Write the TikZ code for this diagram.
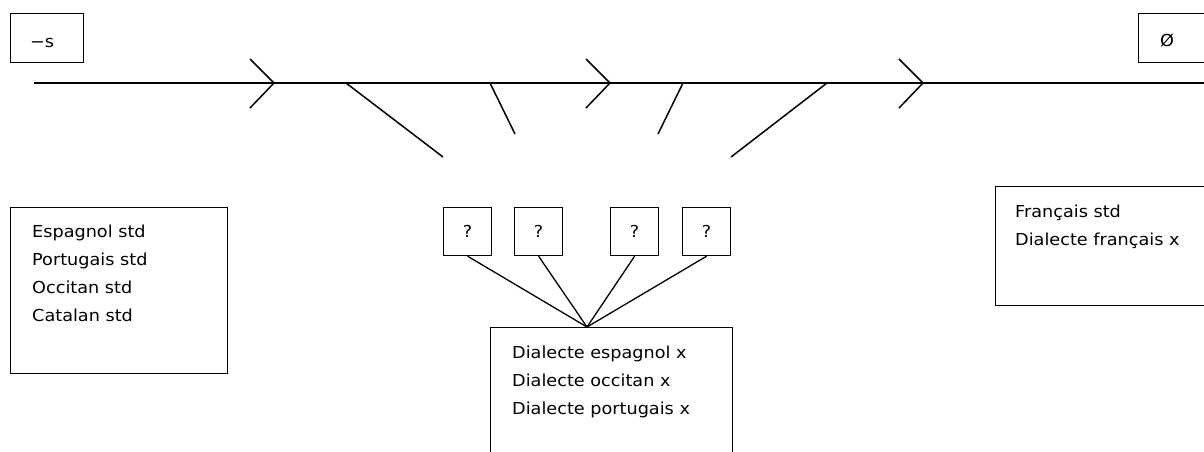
\documentclass[tikz,border=0pt]{standalone}
\usepackage{fontspec}
\setmainfont{DejaVu Sans}[FakeStretch=1.07]
\begin{document}
\begin{tikzpicture}[x=1pt,y=-1pt,
  line/.style={line width=1.5pt},
  box/.style={draw, line width=1.2pt, inner sep=0pt, anchor=north west},
  qbox/.style={box, minimum width=48pt, minimum height=48pt, font=\fontsize{16.5}{20}\selectfont},
  txt/.style={inner sep=0pt, anchor=base west, font=\fontsize{16.5}{20}\selectfont},
  lbl/.style={inner sep=0pt, anchor=base, font=\fontsize{16.5}{20}\selectfont}]
\useasboundingbox (0,0) rectangle (1204,452);
\clip (0,0) rectangle (1204,452);
% top boxes
\node (minus) [box, minimum width=73pt, minimum height=49pt] at (10,13) {};
\node (minust) [lbl] at (42,48) {−s};
\node (zero) [box, minimum width=73pt, minimum height=49pt] at (1138,13) {};
\node (zerot) [lbl] at (1167,46.5) {Ø};
% main line
\coordinate (start) at (34,83);
\coordinate (end) at (1215,83);
\draw[line] (start) -- (end);
% chevrons
\coordinate (tip1) at (274,83);
\coordinate (tip2) at (610,83);
\coordinate (tip3) at (923,83);
\foreach \t in {tip1,tip2,tip3}
  \draw[line] ([shift={(-24,-24)}]\t) -- (\t) -- ([shift={(-24,25)}]\t);
% branches
\coordinate (b1a) at (346,83); \coordinate (b1b) at (443,157);
\coordinate (b2a) at (490,83); \coordinate (b2b) at (515,134);
\coordinate (b3a) at (683,83); \coordinate (b3b) at (658,134);
\coordinate (b4a) at (827,83); \coordinate (b4b) at (731,157);
\draw[line] (b1a) -- (b1b);
\draw[line] (b2a) -- (b2b);
\draw[line] (b3a) -- (b3b);
\draw[line] (b4a) -- (b4b);
% left box
\node (std) [box, minimum width=217pt, minimum height=166pt] at (10,207) {};
\node (s1) [txt] at (32,237) {Espagnol std};
\node (s2) [txt] at (32,265) {Portugais std};
\node (s3) [txt] at (32,293) {Occitan std};
\node (s4) [txt] at (32,321) {Catalan std};
% right box
\node (fr) [box, minimum width=230pt, minimum height=119pt] at (995,186) {};
\node (f1) [txt] at (1015,217) {Français std};
\node (f2) [txt] at (1015,245) {Dialecte français x};
% question boxes
\node (q1) [qbox] at (443,207) {?};
\node (q2) [qbox] at (514,207) {?};
\node (q3) [qbox] at (610,207) {?};
\node (q4) [qbox] at (682,207) {?};
% middle box
\node (dial) [box, minimum width=242pt, minimum height=150pt] at (490,327) {};
\node (d1) [txt] at (512,358) {Dialecte espagnol x};
\node (d2) [txt] at (512,386) {Dialecte occitan x};
\node (d3) [txt] at (512,414) {Dialecte portugais x};
\coordinate (hub) at (587,327);
\foreach \q in {q1,q2,q3,q4}
  \draw[line width=1.3pt] (\q.south) -- (hub);
\end{tikzpicture}
\end{document}
